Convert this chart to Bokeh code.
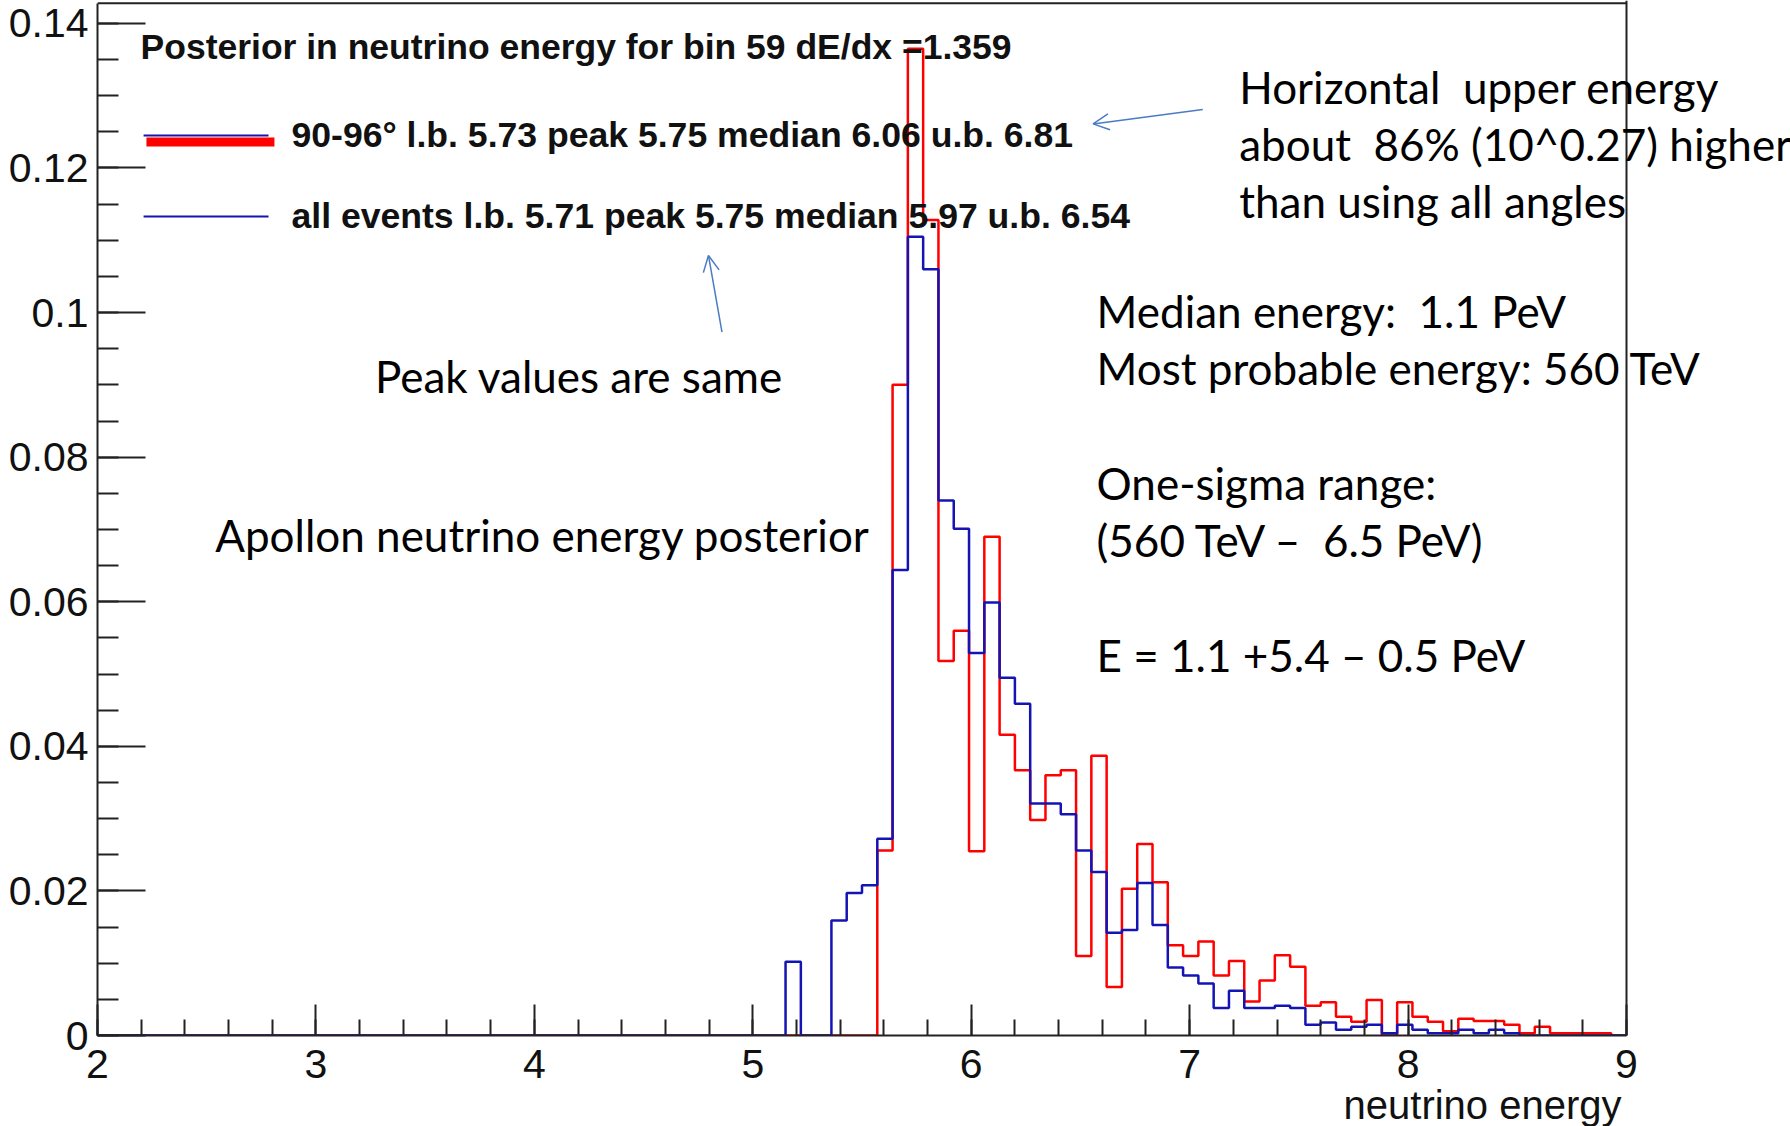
import numpy as np
from bokeh.plotting import figure
from bokeh.models import Range1d, FixedTicker, CustomJSTickFormatter, Label, Arrow, OpenHead, Span, Title
from bokeh.embed import file_html
from bokeh.resources import INLINE

# ---------------- data ----------------
x_min, x_max, n_bins = 2.0, 9.0, 100          # log10(E) histogram binning
x_ticks = [2, 3, 4, 5, 6, 7, 8, 9]
y_ticks = [0, 0.02, 0.04, 0.06, 0.08, 0.10, 0.12, 0.14]

# posterior, 90-96 deg (red)
horizontal = [
    0, 0, 0, 0, 0, 0, 0, 0, 0, 0,
    0, 0, 0, 0, 0, 0, 0, 0, 0, 0,
    0, 0, 0, 0, 0, 0, 0, 0, 0, 0,
    0, 0, 0, 0, 0, 0, 0, 0, 0, 0,
    0, 0, 0, 0, 0, 0, 0, 0, 0, 0,
    0, 0.0256, 0.0900, 0.1365, 0.1128, 0.0518, 0.0560, 0.0255, 0.0690, 0.0416,
    0.0367, 0.0298, 0.0360, 0.0367, 0.0110, 0.0387, 0.0067, 0.0203, 0.0265, 0.0212,
    0.0125, 0.0110, 0.0130, 0.0083, 0.0103, 0.0047, 0.0076, 0.0111, 0.0095, 0.0041,
    0.0046, 0.0026, 0.0019, 0.0049, 0.0, 0.0046, 0.0026, 0.0019, 0.0006, 0.0023,
    0.0020, 0.0020, 0.0015, 0.0003, 0.0012, 0.0003, 0.0003, 0.0003, 0.0003, 0,
]
# posterior, all events (blue)
all_events = [
    0, 0, 0, 0, 0, 0, 0, 0, 0, 0,
    0, 0, 0, 0, 0, 0, 0, 0, 0, 0,
    0, 0, 0, 0, 0, 0, 0, 0, 0, 0,
    0, 0, 0, 0, 0, 0, 0, 0, 0, 0,
    0, 0, 0, 0, 0, 0.0102, 0, 0, 0.0159, 0.0197,
    0.0208, 0.0272, 0.0644, 0.1105, 0.1060, 0.0740, 0.0701, 0.0529, 0.0599, 0.0495,
    0.0459, 0.0321, 0.0321, 0.0306, 0.0256, 0.0226, 0.0142, 0.0146, 0.0211, 0.0153,
    0.0094, 0.0083, 0.0072, 0.0038, 0.0062, 0.0038, 0.0038, 0.0041, 0.0038, 0.0015,
    0.0018, 0.0008, 0.0012, 0.0015, 0.0003, 0.0015, 0.0008, 0.0003, 0.0003, 0.0008,
    0.0003, 0.0008, 0.0003, 0, 0, 0, 0, 0, 0, 0,
]

title_text = "Posterior in neutrino energy for bin 59 dE/dx =1.359"
legend_red = "90-96\u00b0 l.b. 5.73 peak 5.75 median 6.06 u.b. 6.81"
legend_blue = "all events l.b. 5.71 peak 5.75 median 5.97 u.b. 6.54"
x_title = "neutrino energy"

notes_right_top = ["Horizontal \u00a0upper energy", "about \u00a086% (10^0.27) higher", "than using all angles"]
notes_right = ["Median energy: \u00a01.1 PeV", "Most probable energy: 560 TeV", "",
               "One-sigma range:", "(560 TeV \u2013 \u00a06.5 PeV)", "", "E = 1.1 +5.4 \u2013 0.5 PeV"]
note_peak = "Peak values are same"
note_apollon = "Apollon neutrino energy posterior"

# ---------------- figure ----------------
RED = "#ff0000"
BLUE = "#1414b4"
ARROW = "#4a7cc4"
FRAME = "#222222"
ROOTFONT = "Liberation Sans"
NOTEFONT = "Lato"

# frame: x 2..9 spans canvas px 97..1626; the frame is extended to the canvas
# right edge so that slide notes may run past x = 9 like in the original
px_per_unit = (1626 - 97) / (x_max - x_min)
x_right = x_max + (1790 - 1626) / px_per_unit
y_top = 0.14317
y_frame = 0.1428

p = figure(width=1790, height=1126, x_range=Range1d(x_min, x_right), y_range=Range1d(0, y_top),
           output_backend="svg", toolbar_location=None,
           min_border_left=97, min_border_right=0, min_border_top=0, min_border_bottom=89)
p.xgrid.visible = False
p.ygrid.visible = False
p.outline_line_color = None
p.background_fill_color = "white"
p.border_fill_color = "white"

edges = np.linspace(x_min, x_max, n_bins + 1)
p.step(x=edges, y=horizontal + [horizontal[-1]], mode="after", line_color=RED, line_width=2.5)
p.step(x=edges, y=all_events + [all_events[-1]], mode="after", line_color=BLUE, line_width=2.5)

# frame top / right
p.add_layout(Span(location=x_max, dimension="height", line_color=FRAME, line_width=2))
p.add_layout(Arrow(end=None, x_start=x_min, y_start=y_frame, x_end=x_max, y_end=y_frame,
                   line_color=FRAME, line_width=2))

fmt = CustomJSTickFormatter(code="return tick.toFixed(2).replace(/0+$/,'').replace(/\\.$/,'');")

xa = p.xaxis[0]
xa.bounds = (x_min, x_max)
xa.ticker = FixedTicker(ticks=x_ticks, minor_ticks=list(np.round(np.arange(2.0, 9.001, 0.2), 2)))
xa.major_tick_in, xa.major_tick_out = 31, 0
xa.minor_tick_in, xa.minor_tick_out = 16, 0
xa.major_tick_line_width = 2
xa.minor_tick_line_width = 2
xa.axis_line_width = 2
xa.axis_line_color = FRAME
xa.major_tick_line_color = FRAME
xa.minor_tick_line_color = FRAME
xa.major_label_text_font = ROOTFONT
xa.major_label_text_font_size = "41px"
xa.major_label_text_color = "#111111"
xa.major_label_standoff = 14

ya = p.yaxis[0]
ya.bounds = (0, y_frame)
ya.ticker = FixedTicker(ticks=y_ticks, minor_ticks=list(np.round(np.arange(0, 0.1426, 0.005), 3)))
ya.formatter = fmt
ya.major_tick_in, ya.major_tick_out = 48, 0
ya.minor_tick_in, ya.minor_tick_out = 21, 0
ya.major_tick_line_width = 2
ya.minor_tick_line_width = 2
ya.axis_line_width = 2
ya.axis_line_color = FRAME
ya.major_tick_line_color = FRAME
ya.minor_tick_line_color = FRAME
ya.major_label_text_font = ROOTFONT
ya.major_label_text_font_size = "41px"
ya.major_label_text_color = "#111111"
ya.major_label_standoff = 9

# x axis title, right-aligned to x = 9 (canvas px 1621)
p.add_layout(Title(text=x_title, align="right", offset=1790 - 1621, standoff=0,
                   text_font=ROOTFONT, text_font_size="40px", text_font_style="normal",
                   text_color="#111111"), "below")

def lab(x, y, text, font, size, bold=False, align="left", color="#111111"):
    p.add_layout(Label(x=x, y=y, text=text, text_font=font, text_font_size=size,
                       text_font_style="bold" if bold else "normal",
                       text_align=align, text_baseline="middle", text_color=color))

# ROOT title and legend
lab(2.197, 0.1368, title_text, ROOTFONT, "35.5px", bold=True)
p.add_layout(Arrow(end=None, x_start=2.224, y_start=0.1236, x_end=2.810, y_end=0.1236,
                   line_color=RED, line_width=9))
p.add_layout(Arrow(end=None, x_start=2.211, y_start=0.1245, x_end=2.783, y_end=0.1245,
                   line_color=BLUE, line_width=2))
lab(2.888, 0.1245, legend_red, ROOTFONT, "35.6px", bold=True)
p.add_layout(Arrow(end=None, x_start=2.211, y_start=0.1133, x_end=2.783, y_end=0.1133,
                   line_color=BLUE, line_width=2))
lab(2.888, 0.1133, legend_blue, ROOTFONT, "35.6px", bold=True)

# slide notes
for i, t in enumerate(notes_right_top):
    lab(7.227, 0.1312 - i * 0.0079, t, NOTEFONT, "44px", color="black")
for i, t in enumerate(notes_right):
    if t:
        lab(6.574, 0.1002 - i * 0.00793, t, NOTEFONT, "44px", color="black")
lab(3.270, 0.0912, note_peak, NOTEFONT, "44px", color="black")
lab(2.539, 0.0693, note_apollon, NOTEFONT, "44px", color="black")

# arrows
p.add_layout(Arrow(end=OpenHead(size=16, line_color=ARROW, line_width=1.5),
                   x_start=7.060, y_start=0.1281, x_end=6.558, y_end=0.1261,
                   line_color=ARROW, line_width=1.5))
p.add_layout(Arrow(end=OpenHead(size=16, line_color=ARROW, line_width=1.5),
                   x_start=4.859, y_start=0.0973, x_end=4.797, y_end=0.1079,
                   line_color=ARROW, line_width=1.5))

open("out.html", "w").write(file_html(p, INLINE))
